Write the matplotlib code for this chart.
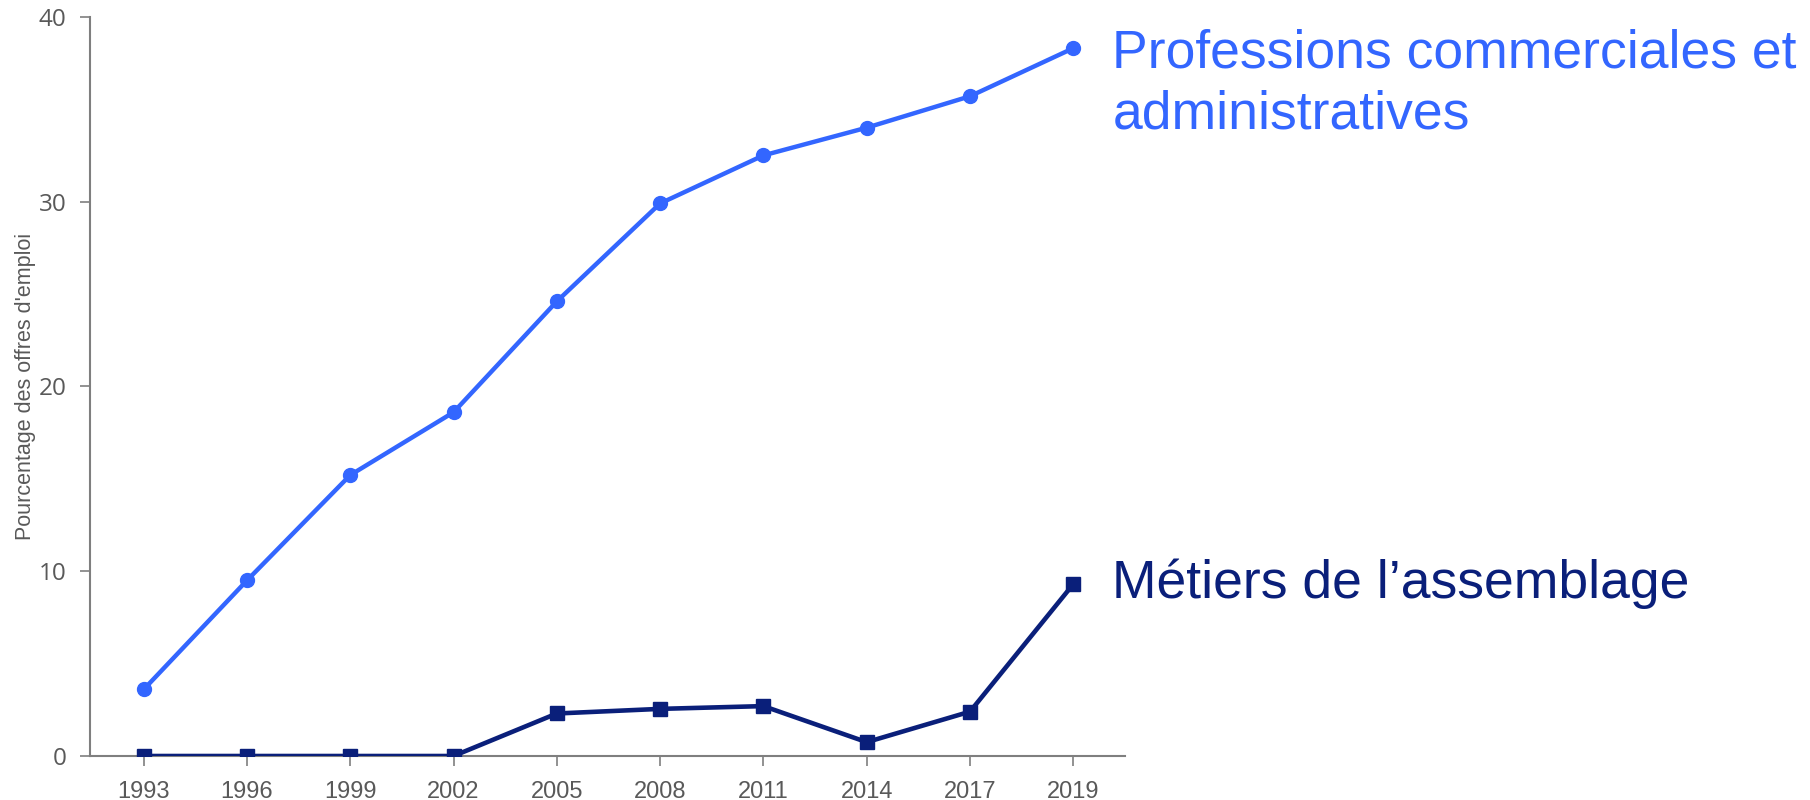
import numpy as np
import matplotlib.pyplot as plt

years = ['1993', '1996', '1999', '2002', '2005', '2008', '2011', '2014', '2017', '2019']
commerciales = [3.6, 9.5, 15.2, 18.6, 24.6, 29.9, 32.5, 34.0, 35.7, 38.3]
assemblage = [0.0, 0.0, 0.0, 0.0, 2.3, 2.55, 2.7, 0.75, 2.4, 9.3]

label_comm = 'Professions commerciales et\nadministratives'
label_ass = 'Métiers de l’assemblage'

blue = '#3366FF'
navy = '#0A1F7A'
grey = '#595959'

fig = plt.figure(figsize=(18.1, 8), dpi=100)
ax = fig.add_axes([0.0497, 0.055, 0.5718, 0.924])

x = np.arange(len(years))
ax.plot(x, commerciales, color=blue, lw=3.2, marker='o', ms=10, zorder=3)
ax.plot(x, assemblage, color=navy, lw=3.3, marker='s', ms=10.5, zorder=3)

ax.set_xlim(-0.52, 9.5)
ax.set_ylim(0, 40)
ax.set_yticks([0, 10, 20, 30, 40])
ax.set_xticks(x)
ax.set_xticklabels(years, family='Liberation Sans', fontsize=17, color=grey)
for t in ax.get_yticklabels():
    t.set_family('Open Sans')
    t.set_fontsize(17.5)
    t.set_color(grey)

for s in ['top', 'right']:
    ax.spines[s].set_visible(False)
for s in ['left', 'bottom']:
    ax.spines[s].set_color('#7f7f7f')
    ax.spines[s].set_linewidth(1.5)
ax.tick_params(axis='both', length=7, width=1.2, color='#7f7f7f')
ax.tick_params(axis='x', pad=11)
ax.tick_params(axis='y', pad=10)

ax.set_ylabel("Pourcentage des offres d'emploi", family='Liberation Sans',
              fontsize=15.5, color=grey, labelpad=2)

ax.annotate(label_comm, xy=(x[-1], commerciales[-1]), xytext=(39, -36), textcoords='offset pixels',
            fontsize=38.5, family='Liberation Sans', color=blue, va='center', ha='left',
            linespacing=1.28, annotation_clip=False)
ax.annotate(label_ass, xy=(x[-1], assemblage[-1]), xytext=(39, 0), textcoords='offset pixels',
            fontsize=38.5, family='Liberation Sans', color=navy, va='center', ha='left',
            annotation_clip=False)

fig.savefig('out.png', dpi=100)
